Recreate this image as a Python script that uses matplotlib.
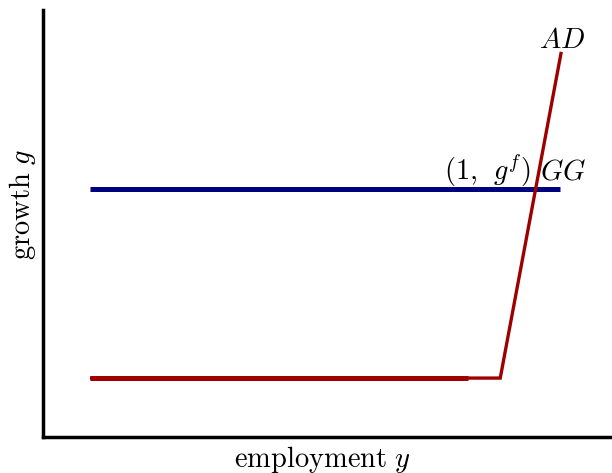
import matplotlib
matplotlib.use("Agg")
import matplotlib.pyplot as plt

plt.rcParams['mathtext.fontset'] = 'cm'
plt.rcParams['font.family'] = ['serif']
plt.rcParams['font.serif'] = ['cmr10', 'DejaVu Serif']
plt.rcParams['axes.formatter.use_mathtext'] = True

# data (employment y, growth g)
gg_x = [0.0955, 1.051]
gg_g = [0.581, 0.581]
ad_x = [0.0955, 0.929, 1.053]
ad_g = [0.138, 0.138, 0.902]
ad_flat_x = [0.0955, 0.864]
ad_flat_g = [0.138, 0.138]

W, H = 612, 473
fig = plt.figure(figsize=(W/100, H/100), dpi=100)
ax = fig.add_axes([43/W, 1-437/H, (610-43)/W, (437-10)/H])
ax.set_xlim(0, 1.152)
ax.set_ylim(0, 1)

blue = '#000080'
red = '#9e0000'
ax.plot(gg_x, gg_g, color=blue, lw=3.6, solid_capstyle='butt')
ax.plot(ad_x, ad_g, color=red, lw=2.4, solid_capstyle='butt', solid_joinstyle='miter')
ax.plot(ad_flat_x, ad_flat_g, color=red, lw=3.6, solid_capstyle='butt')

for s in ['top', 'right']:
    ax.spines[s].set_visible(False)
for s in ['left', 'bottom']:
    ax.spines[s].set_linewidth(2.5)
ax.set_xticks([])
ax.set_yticks([])

fs = 20.5
fig.text(562/W, 1-48/H, r'$AD$', fontsize=fs, ha='center', va='baseline')
fig.text(531/W, 1-180/H, r'$(1,\;\,g^f)$', fontsize=fs, ha='right', va='baseline')
fig.text(540/W, 1-180/H, r'$GG$', fontsize=fs, ha='left', va='baseline')

fig.text(322/W, 1-459/H, r'$\mathrm{employment}\ y$', fontsize=fs, ha='center', va='center')
fig.text(22/W, 1-205/H, r'$\mathrm{growth}\ g$', fontsize=fs, ha='center', va='center', rotation=90)

fig.savefig('out.png', dpi=100)
